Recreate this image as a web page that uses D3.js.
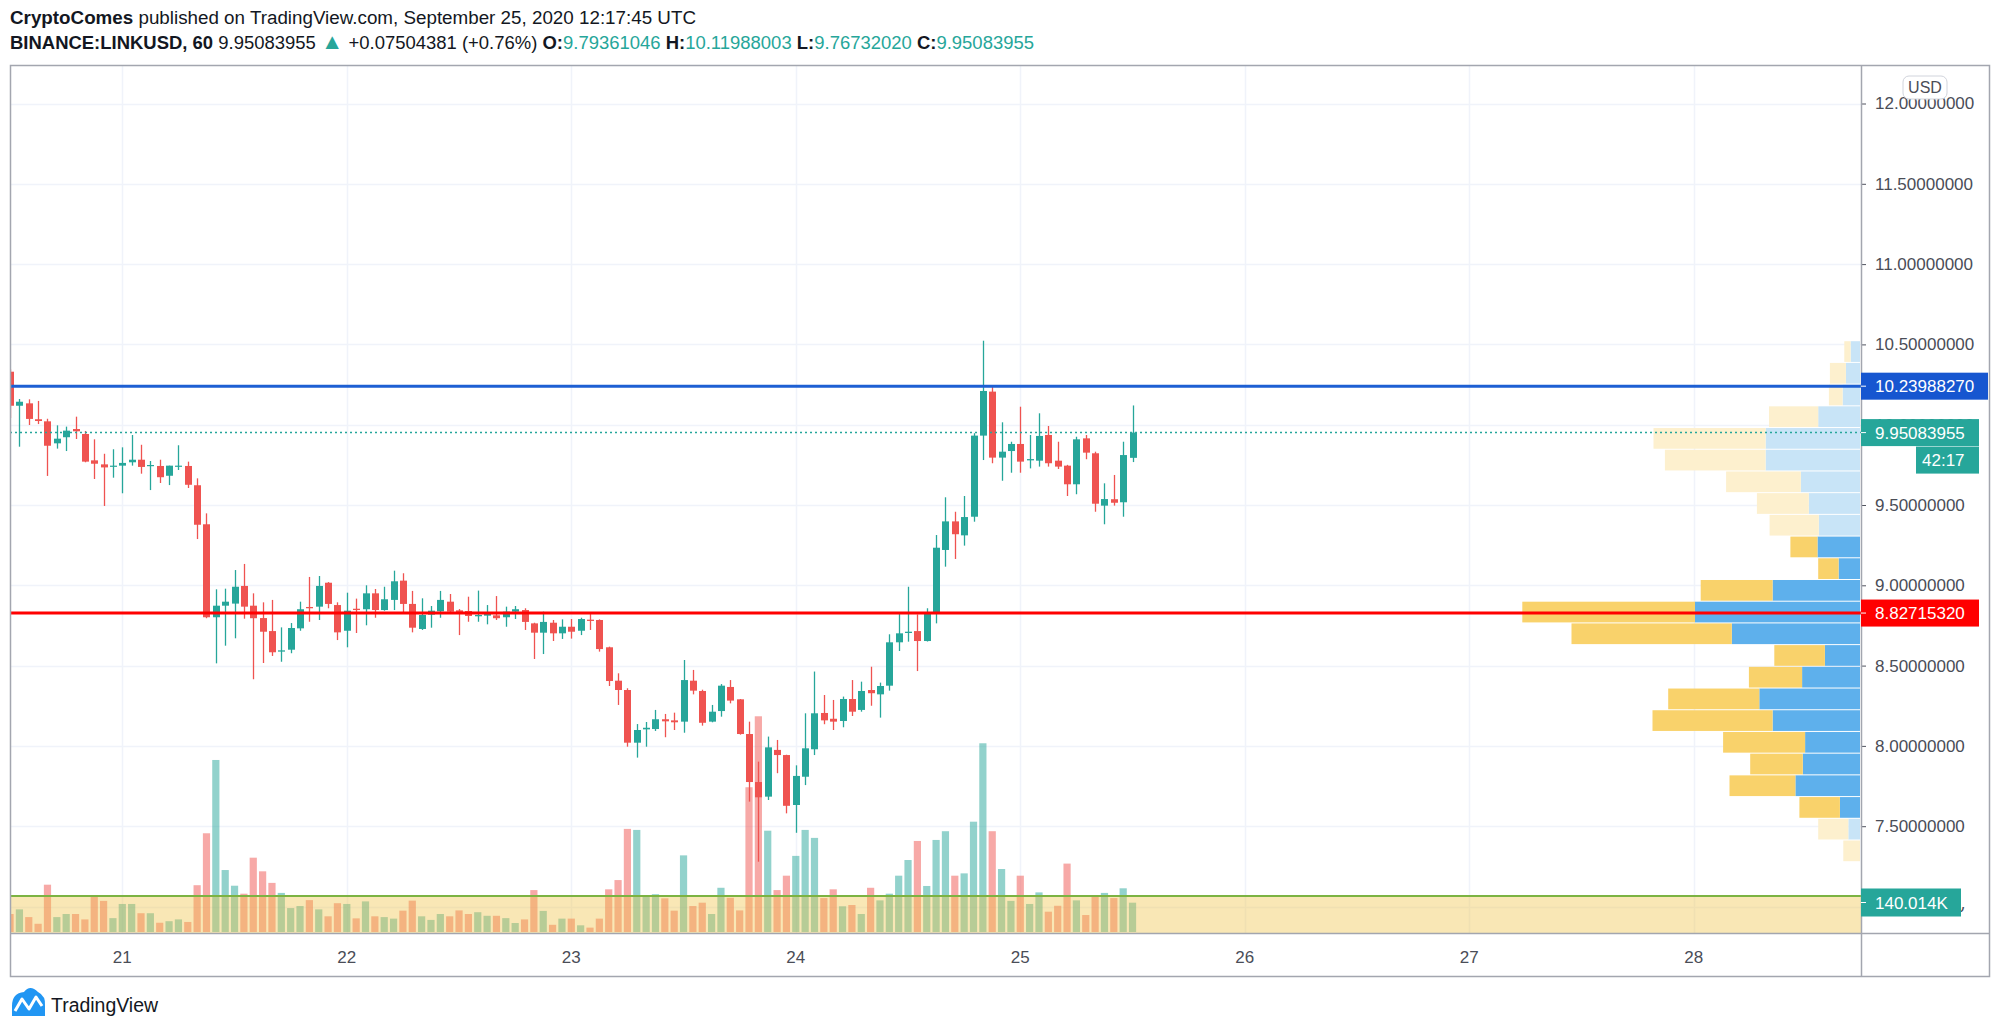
<!DOCTYPE html>
<html><head><meta charset="utf-8">
<script src="https://cdn.jsdelivr.net/npm/d3@7"></script>
<style>body{margin:0;background:#fff;}svg{display:block}</style>
</head><body>
<svg id="c" width="2000" height="1032"></svg>
<script>
// ---------------- DATA ----------------
const startTime = Date.UTC(2020, 8, 20, 12); // first hourly candle (UTC)
const openP = [10.330,10.118,10.133,10.034,10.021,9.884,9.922,9.973,9.942,9.778,
9.753,9.738,9.745,9.766,9.782,9.743,9.743,9.682,9.738,9.743,
9.623,9.380,8.801,8.873,8.886,8.996,8.873,8.796,8.715,8.587,
8.599,8.732,8.865,8.867,9.016,8.877,8.717,8.854,8.851,8.950,
8.846,8.909,9.029,8.884,8.728,8.817,8.838,8.898,8.844,8.840,
8.807,8.811,8.813,8.801,8.836,8.846,8.763,8.705,8.767,8.701,
8.742,8.717,8.786,8.784,8.614,8.406,8.348,8.020,8.103,8.105,
8.166,8.159,8.151,8.406,8.342,8.151,8.217,8.367,8.290,8.074,
7.775,7.684,7.975,7.943,7.632,7.808,7.979,8.205,8.169,8.155,
8.292,8.224,8.348,8.321,8.375,8.645,8.703,8.715,8.653,8.832,
9.220,9.398,9.311,9.427,9.932,10.206,9.795,9.836,9.880,9.778,
9.776,9.936,9.776,9.745,9.629,9.915,9.822,9.496,9.536,9.517,
9.79361046];
const highP = [10.345,10.160,10.158,10.148,10.037,9.996,9.988,10.050,9.961,9.909,
9.819,9.847,9.859,9.936,9.875,9.774,9.782,9.745,9.872,9.770,
9.666,9.448,8.975,8.979,9.095,9.133,8.950,8.894,8.909,8.738,
8.765,8.898,9.052,9.058,9.020,8.894,8.954,8.917,9.000,8.977,
8.991,9.091,9.075,8.965,8.919,8.871,8.965,8.946,8.852,8.929,
8.967,8.877,8.933,8.867,8.871,8.857,8.767,8.836,8.784,8.788,
8.790,8.798,8.821,8.788,8.618,8.452,8.359,8.136,8.149,8.224,
8.199,8.207,8.535,8.473,8.350,8.255,8.385,8.410,8.292,8.151,
7.902,8.058,8.037,7.945,7.879,8.203,8.463,8.317,8.286,8.307,
8.410,8.400,8.493,8.394,8.695,8.821,8.991,8.819,8.857,9.313,
9.548,9.458,9.556,9.947,10.523,10.247,10.015,9.894,10.112,9.936,
10.071,9.992,9.894,9.750,9.925,9.936,9.832,9.635,9.687,9.894,
10.11988003];
const lowP = [10.042,9.863,9.998,10.004,9.681,9.851,9.836,9.911,9.766,9.662,
9.494,9.670,9.573,9.745,9.695,9.593,9.637,9.624,9.718,9.606,
9.288,8.795,8.514,8.624,8.670,8.792,8.415,8.516,8.560,8.524,
8.577,8.717,8.773,8.784,8.857,8.659,8.614,8.703,8.751,8.798,
8.842,8.846,8.829,8.707,8.722,8.736,8.798,8.821,8.690,8.773,
8.773,8.757,8.784,8.742,8.790,8.722,8.541,8.572,8.653,8.666,
8.668,8.690,8.722,8.587,8.373,8.255,7.995,7.927,7.995,8.093,
8.054,8.099,8.082,8.321,8.126,8.147,8.182,8.265,8.070,7.653,
7.279,7.663,7.830,7.580,7.459,7.756,7.943,8.135,8.099,8.116,
8.186,8.213,8.250,8.176,8.344,8.591,8.649,8.466,8.650,8.763,
9.116,9.164,9.247,9.396,9.780,9.760,9.651,9.701,9.701,9.728,
9.739,9.739,9.724,9.556,9.567,9.785,9.458,9.380,9.496,9.427,
9.76732020];
const closeP = [10.118,10.143,10.036,10.023,9.869,9.913,9.963,9.959,9.770,9.757,
9.734,9.745,9.762,9.782,9.737,9.749,9.673,9.745,9.745,9.626,
9.377,8.801,8.873,8.898,8.991,8.867,8.795,8.711,8.583,8.595,
8.734,8.851,8.857,8.996,8.884,8.707,8.842,8.846,8.950,8.846,
8.913,9.025,8.884,8.736,8.815,8.842,8.909,8.836,8.834,8.809,
8.815,8.826,8.795,8.836,8.851,8.772,8.705,8.772,8.701,8.742,
8.711,8.790,8.778,8.603,8.404,8.348,8.020,8.099,8.113,8.166,
8.153,8.147,8.410,8.344,8.144,8.213,8.375,8.282,8.074,7.775,
7.680,7.991,7.943,7.627,7.813,7.985,8.203,8.159,8.151,8.292,
8.213,8.342,8.328,8.373,8.645,8.701,8.711,8.653,8.832,9.234,
9.398,9.318,9.425,9.932,10.210,9.795,9.832,9.880,9.770,9.786,
9.930,9.760,9.739,9.629,9.909,9.826,9.508,9.537,9.514,9.811,
9.95083955];
const volumeK = [70,88,58,32,184,58,70,70,49,137,
121,54,109,109,73,73,36,42,49,39,
182,384,669,241,180,149,289,236,191,152,
93,101,124,88,61,112,109,53,119,61,
58,52,83,122,61,47,70,61,84,70,
77,63,63,54,35,49,163,82,28,52,
52,26,17,52,166,202,401,397,137,147,
131,83,298,101,114,70,172,133,84,563,
839,394,163,219,296,397,366,132,166,100,
105,70,172,123,149,219,280,354,179,358,
392,219,228,429,734,392,245,121,219,109,
154,79,102,266,123,66,137,152,132,170,
114];
const volumeMA = 140.014;
const priceTicks = [7.0,7.5,8.0,8.5,9.0,9.5,10.0,10.5,11.0,11.5,12.0];
const dayLabels = ["21","22","23","24","25","26","27","28"];
// Volume profile (visible range), rows listed top (high) to bottom (low)
const vpRange = [7.279, 10.523];
const vpUp =   [94,141,174,418,944,944,592,512,412,425,214,874,1650,1282,351,579,1007,874,549,572,646,201,117,0];
const vpDown = [63,160,137,492,1121,1007,747,519,492,271,204,719,1727,1603,506,532,911,1201,820,526,659,405,301,167];
const vpValueArea = [9, 21]; // row indexes (inclusive) inside value area
const levelBlue = 10.23988270;
const levelRed = 8.82715320;
const lastPrice = 9.95083955;
const countdown = "42:17";

// ---------------- SCALES ----------------
const svg = d3.select("#c");
const P = {x0: 10, x1: 1861, y0: 65, y1: 933};
const x = d3.scaleUtc()
  .domain([new Date(Date.UTC(2020,8,20,12)), new Date(Date.UTC(2020,8,28,0))])
  .range([10.05, 1693.77]);
const y = d3.scaleLinear().domain([7, 12]).range([906.5, 103.5]);
const yv = d3.scaleLinear().domain([0, volumeMA]).range([932, 896]);
const times = openP.map((_, i) => new Date(startTime + i * 3600e3));
const UP = "#26a69a", DN = "#ef5350";
const FONT = "'Liberation Sans', Arial, sans-serif";

svg.append("rect").attr("width", 2000).attr("height", 1032).attr("fill", "#fff");
const defs = svg.append("defs");
defs.append("clipPath").attr("id", "pane")
  .append("rect").attr("x", P.x0).attr("y", P.y0).attr("width", P.x1 - P.x0).attr("height", P.y1 - P.y0);
const g = svg.append("g").attr("clip-path", "url(#pane)");

// grid
const days = dayLabels.map(d => new Date(Date.UTC(2020, 8, +d)));
g.selectAll(".vg").data(days).join("line")
  .attr("x1", d => Math.round(x(d)) + 0.5).attr("x2", d => Math.round(x(d)) + 0.5)
  .attr("y1", P.y0).attr("y2", P.y1).attr("stroke", "#f0f3fa").attr("stroke-width", 1.5);
g.selectAll(".hg").data(priceTicks).join("line")
  .attr("x1", P.x0).attr("x2", P.x1)
  .attr("y1", d => Math.round(y(d)) + 0.5).attr("y2", d => Math.round(y(d)) + 0.5)
  .attr("stroke", "#f0f3fa").attr("stroke-width", 1.5);

// volume bars
g.selectAll(".vol").data(volumeK).join("rect")
  .attr("x", (d, i) => x(times[i]) - 3.6).attr("width", 7.2)
  .attr("y", d => yv(d)).attr("height", d => 932 - yv(d))
  .attr("fill", (d, i) => closeP[i] >= openP[i] ? UP : DN).attr("fill-opacity", 0.5);

// volume MA band
g.append("rect").attr("x", P.x0).attr("width", P.x1 - P.x0)
  .attr("y", yv(volumeMA)).attr("height", P.y1 - yv(volumeMA))
  .attr("fill", "rgb(240,195,70)").attr("fill-opacity", 0.4);
g.append("line").attr("x1", P.x0).attr("x2", P.x1)
  .attr("y1", yv(volumeMA)).attr("y2", yv(volumeMA))
  .attr("stroke", "#7cb342").attr("stroke-width", 2);

// volume profile
const rowH = (vpRange[1] - vpRange[0]) / vpUp.length;
const wS = d3.scaleLinear().domain([0, d3.max(vpUp, (u, i) => u + vpDown[i])]).range([0, 337.7]);
const vpRight = 1860;
vpUp.forEach((u, k) => {
  const top = y(vpRange[1] - k * rowH) + 0.5;
  const bot = y(vpRange[1] - (k + 1) * rowH) - 0.5;
  const inVA = k >= vpValueArea[0] && k <= vpValueArea[1];
  const d = vpDown[k];
  if (u > 0) g.append("rect").attr("x", vpRight - wS(u)).attr("width", wS(u))
    .attr("y", top).attr("height", bot - top).attr("fill", inVA ? "#5eb0ec" : "#c8e4f7");
  g.append("rect").attr("x", vpRight - wS(u + d)).attr("width", wS(d))
    .attr("y", top).attr("height", bot - top).attr("fill", inVA ? "#f9d26b" : "#fdf0ce");
});

// candles
const cg = g.append("g");
times.forEach((t, i) => {
  const cx = Math.round(x(t)) + 0.5;
  const col = closeP[i] >= openP[i] ? UP : DN;
  cg.append("line").attr("x1", cx).attr("x2", cx)
    .attr("y1", y(highP[i])).attr("y2", y(lowP[i])).attr("stroke", col).attr("stroke-width", 1.3);
  const yt = y(Math.max(openP[i], closeP[i])), yb = y(Math.min(openP[i], closeP[i]));
  cg.append("rect").attr("x", cx - 3.5).attr("width", 7)
    .attr("y", yt).attr("height", Math.max(1.2, yb - yt)).attr("fill", col);
});

// horizontal levels
g.append("line").attr("x1", P.x0).attr("x2", P.x1).attr("y1", y(lastPrice)).attr("y2", y(lastPrice))
  .attr("stroke", UP).attr("stroke-width", 1.5).attr("stroke-dasharray", "2,3");
g.append("line").attr("x1", P.x0).attr("x2", P.x1).attr("y1", y(levelBlue)).attr("y2", y(levelBlue))
  .attr("stroke", "#1d5fd3").attr("stroke-width", 3);
g.append("line").attr("x1", P.x0).attr("x2", P.x1).attr("y1", y(levelRed)).attr("y2", y(levelRed))
  .attr("stroke", "#ff0000").attr("stroke-width", 3);

// price axis (labels that sit under the volume-MA box are clipped so only their tail peeks out)
defs.append("clipPath").attr("id", "axclip").append("path")
  .attr("d", `M0,0 H140 V${y(7.25)} H100 V${y(6.75)} H140 V1032 H0 Z`);
const ax = svg.append("g").attr("transform", `translate(${P.x1},0)`)
  .call(d3.axisRight(y).tickValues(priceTicks).tickFormat(d3.format(".8f")).tickSize(5).tickPadding(9));
ax.select(".domain").remove();
ax.selectAll("line").attr("stroke", "#50535e");
ax.selectAll("text").attr("font-family", FONT).attr("font-size", 17).attr("fill", "#4a4d57");
ax.selectAll(".tick").filter(d => d === 7.0).select("text")
  .attr("clip-path", "url(#axclip)").attr("x", 14);

// time axis labels
svg.append("g").selectAll("text").data(days).join("text")
  .attr("x", d => x(d)).attr("y", 963).attr("text-anchor", "middle")
  .attr("font-family", FONT).attr("font-size", 17).attr("fill", "#4a4d57")
  .text((d, i) => dayLabels[i]);

// frame
svg.append("rect").attr("x", 10.5).attr("y", 65.5).attr("width", 1979).attr("height", 911)
  .attr("fill", "none").attr("stroke", "#a3a6af").attr("stroke-width", 1.5);
svg.append("line").attr("x1", P.x1 + 0.5).attr("x2", P.x1 + 0.5).attr("y1", 65).attr("y2", 977)
  .attr("stroke", "#a3a6af").attr("stroke-width", 1.5);
svg.append("line").attr("x1", 10).attr("x2", 1990).attr("y1", P.y1 + 0.5).attr("y2", P.y1 + 0.5)
  .attr("stroke", "#a3a6af").attr("stroke-width", 1.5);

// axis labels (boxes)
function boxLabel(cy, txt, fill, x0, x1, h, tx) {
  const gg = svg.append("g");
  gg.append("rect").attr("x", x0).attr("y", cy - h / 2).attr("width", x1 - x0).attr("height", h).attr("fill", fill);
  if (x0 === P.x1) gg.append("line").attr("x1", x0).attr("x2", x0 + 5).attr("y1", cy).attr("y2", cy).attr("stroke", "#fff");
  gg.append("text").attr("x", tx).attr("y", cy + 6).attr("font-family", FONT).attr("font-size", 17)
    .attr("fill", "#fff").text(txt);
}
boxLabel(y(levelBlue), d3.format(".8f")(levelBlue), "#1656d0", P.x1, 1988, 27, 1875);
boxLabel(y(lastPrice), d3.format(".8f")(lastPrice), UP, P.x1, 1979, 27, 1875);
boxLabel(y(lastPrice) + 27.5, countdown, UP, 1916, 1979, 27, 1922);
boxLabel(y(levelRed), d3.format(".8f")(levelRed), "#ff0000", P.x1, 1979, 27, 1875);
boxLabel(902.5, d3.format(".3f")(volumeMA) + "K", UP, P.x1, 1961, 28, 1875);

// USD badge
svg.append("rect").attr("x", 1903).attr("y", 76).attr("width", 44).attr("height", 23).attr("rx", 6)
  .attr("fill", "#fff").attr("stroke", "#d1d4dc");
svg.append("text").attr("x", 1925).attr("y", 93).attr("text-anchor", "middle")
  .attr("font-family", FONT).attr("font-size", 16).attr("fill", "#4a4d57").text("USD");

// header
const h1 = svg.append("text").attr("x", 10).attr("y", 24).attr("font-family", FONT).attr("font-size", 18)
  .attr("fill", "#131722").attr("textLength", 686).attr("lengthAdjust", "spacingAndGlyphs");
h1.append("tspan").attr("font-weight", "bold").text("CryptoComes");
h1.append("tspan").text(" published on TradingView.com, September 25, 2020 12:17:45 UTC");
const h2 = svg.append("text").attr("x", 10).attr("y", 49).attr("font-family", FONT).attr("font-size", 18)
  .attr("fill", "#131722").attr("textLength", 1024).attr("lengthAdjust", "spacingAndGlyphs");
const seg = [["BINANCE:LINKUSD, 60", "b", "#131722"], [" 9.95083955 ", "", "#131722"], ["▲", "t", UP],
  [" +0.07504381 (+0.76%) ", "", "#131722"], ["O:", "b", "#131722"], ["9.79361046", "", UP],
  [" H:", "b", "#131722"], ["10.11988003", "", UP], [" L:", "b", "#131722"], ["9.76732020", "", UP],
  [" C:", "b", "#131722"], ["9.95083955", "", UP]];
seg.forEach(s => {
  const t = h2.append("tspan").attr("font-weight", s[1] === "b" ? "bold" : "normal").attr("fill", s[2]).text(s[0]);
  if (s[1] === "t") t.attr("font-size", 22);
});

// TradingView logo
const lg = svg.append("g");
lg.append("path").attr("d", "M12,1016 L12,1006 Q12,993 24,992 Q30,984 38,992 Q46,996 45,1006 L45,1016 Z").attr("fill", "#2196f3");
lg.append("polyline").attr("points", "15,1011 22,999 29,1009 36,997 42,1006")
  .attr("fill", "none").attr("stroke", "#fff").attr("stroke-width", 3).attr("stroke-linejoin", "round");
lg.append("text").attr("x", 51).attr("y", 1012).attr("font-family", FONT).attr("font-size", 20)
  .attr("fill", "#131722").attr("textLength", 107).attr("lengthAdjust", "spacingAndGlyphs").text("TradingView");
</script>
</body></html>
